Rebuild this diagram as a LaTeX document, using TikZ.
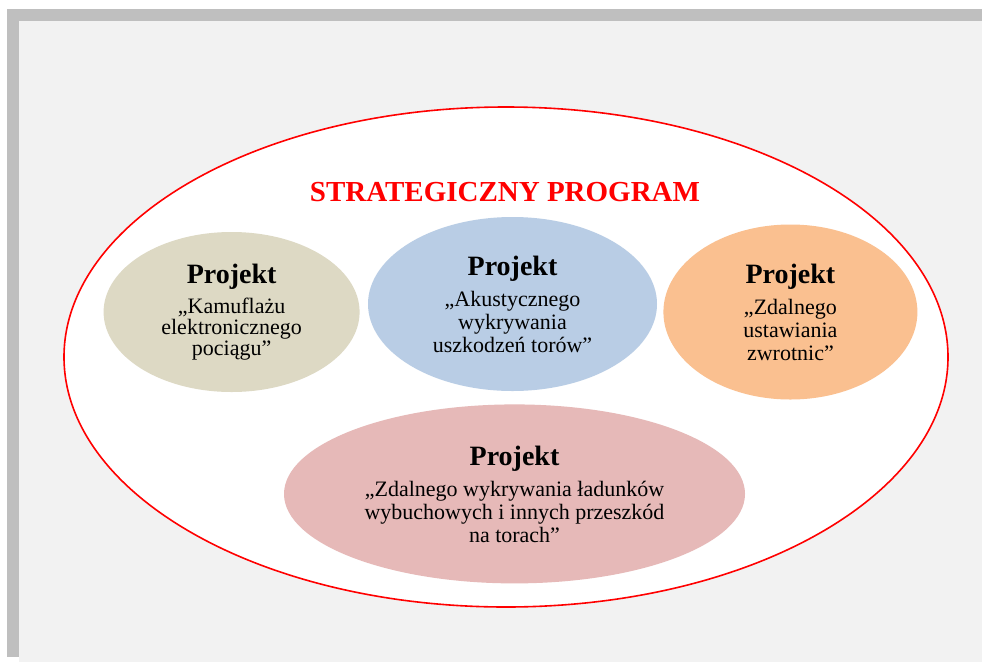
\documentclass[tikz,border=0pt]{standalone}
\usepackage{fontspec}
\setmainfont{Liberation Serif}
\usepackage{xcolor}
\usepackage{tikz}
\usetikzlibrary{positioning,shapes.geometric}

\definecolor{tlo}{HTML}{F2F2F2}
\definecolor{ramka}{HTML}{BFBFBF}
\definecolor{bez}{HTML}{DDD9C4}
\definecolor{niebieski}{HTML}{B9CDE5}
\definecolor{pomarancz}{HTML}{FAC090}
\definecolor{roz}{HTML}{E6B9B8}

\newcommand{\projektnaglowek}{{\fontsize{28}{30}\selectfont\bfseries Projekt}\\[8pt]}

\begin{document}
\begin{tikzpicture}[x=1pt, y=-1pt,
    projekt/.style={ellipse, inner sep=0pt, align=center,
        font=\fontsize{22}{23}\selectfont}]
            \useasboundingbox (0,0) rectangle (982,662);
            \fill[white] (0,0) rectangle (982,662);
            \fill[ramka] (7,9) rectangle (982,21);
            \fill[ramka] (7,9) rectangle (19,657);
            \fill[tlo] (19,21) rectangle (982,662);

            \node (program) [draw=red, line width=1.6pt, fill=white, ellipse, inner sep=0pt, minimum width=884pt, minimum height=500pt] at (506,357) {};
            \node (tytul) [anchor=base, text=red, font=\fontsize{29}{31}\selectfont\bfseries] at (505,201) {STRATEGICZNY PROGRAM};

            \node (akustyka) [projekt, fill=niebieski, minimum width=289pt, minimum height=174pt] at (512.5,304) {\projektnaglowek „Akustycznego\\ wykrywania\\ uszkodzeń torów”};
            \node (kamuflaz) [projekt, fill=bez, font=\fontsize{22}{21}\selectfont, minimum width=256pt, minimum height=160pt, left=8pt of akustyka, yshift=-8pt] {\projektnaglowek „Kamuflażu\\ elektronicznego\\ pociągu”};
            \node (zwrotnice) [projekt, fill=pomarancz, minimum width=254pt, minimum height=175pt, right=6pt of akustyka, yshift=-8pt] {\projektnaglowek „Zdalnego\\ ustawiania\\ zwrotnic”};
            \node (ladunki) [projekt, fill=roz, minimum width=461pt, minimum height=179pt, below=13pt of akustyka, xshift=2pt] {\projektnaglowek „Zdalnego wykrywania ładunków\\ wybuchowych i innych przeszkód\\ na torach”};
        \end{tikzpicture}
\end{document}
